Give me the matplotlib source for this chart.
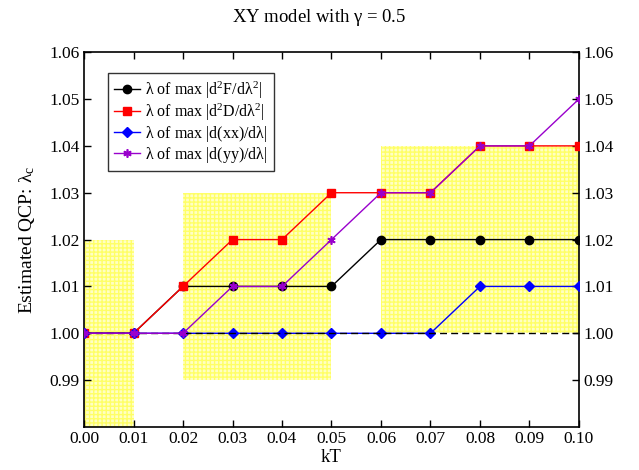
import matplotlib
matplotlib.use("Agg")
import matplotlib.pyplot as plt
from matplotlib.patches import Rectangle

plt.rcParams['font.family'] = ['Liberation Serif', 'DejaVu Serif']
plt.rcParams['mathtext.fontset'] = 'stix'
plt.rcParams['mathtext.default'] = 'regular'
plt.rcParams['hatch.linewidth'] = 1.0

# Temperature grid and estimated critical points
kT = [0.00, 0.01, 0.02, 0.03, 0.04, 0.05, 0.06, 0.07, 0.08, 0.09, 0.10]
lam_F = [1.00, 1.00, 1.01, 1.01, 1.01, 1.01, 1.02, 1.02, 1.02, 1.02, 1.02]
lam_D = [1.00, 1.00, 1.01, 1.02, 1.02, 1.03, 1.03, 1.03, 1.04, 1.04, 1.04]
lam_xx = [1.00, 1.00, 1.00, 1.00, 1.00, 1.00, 1.00, 1.00, 1.01, 1.01, 1.01]
lam_yy = [1.00, 1.00, 1.00, 1.01, 1.01, 1.02, 1.03, 1.03, 1.04, 1.04, 1.05]

# Shaded bands: (kT start, kT end, lambda low, lambda high)
band_x0 = [0.00, 0.02, 0.06]
band_x1 = [0.01, 0.05, 0.10]
band_y0 = [0.98, 0.99, 1.00]
band_y1 = [1.02, 1.03, 1.04]

labels = [r'$\lambda$ of max $|d^{2}F/d\lambda^{2}|$',
          r'$\lambda$ of max $|d^{2}D/d\lambda^{2}|$',
          r'$\lambda$ of max $|d(xx)/d\lambda|$',
          r'$\lambda$ of max $|d(yy)/d\lambda|$']

fig = plt.figure(figsize=(6.39, 4.70), dpi=100)
ax = fig.add_axes([0.1315, 0.0915, 0.7745, 0.7975])

for x0, x1, y0, y1 in zip(band_x0, band_x1, band_y0, band_y1):
    ax.add_patch(Rectangle((x0, y0), x1 - x0, y1 - y0, facecolor='#ffffc4',
                           edgecolor='#ffff66', hatch='++++', linewidth=0,
                           zorder=0))

ax.plot(kT, lam_F, color='black', marker='o', markersize=6, lw=1.0,
        label=labels[0], zorder=3)
ax.plot(kT, lam_D, color='red', marker='s', markersize=6, lw=1.0,
        label=labels[1], zorder=4)
ax.plot(kT, lam_xx, color='blue', marker='D', markersize=5, lw=1.0,
        label=labels[2], zorder=5)
ax.plot([0.0, 0.10], [1.00, 1.00], color='black', ls='--', lw=1.0,
        dashes=(5, 3), zorder=6)
ax.plot(kT, lam_yy, color='#9900cc', marker=(6, 2, 0), markersize=6,
        markeredgewidth=1.2, lw=1.0, label=labels[3], zorder=7)

ax.set_xlim(0.0, 0.10)
ax.set_ylim(0.98, 1.06)
ax.set_xticks(kT)
ax.set_xticklabels([f'{v:.2f}' for v in kT])
yt = [0.99, 1.00, 1.01, 1.02, 1.03, 1.04, 1.05, 1.06]
ax.set_yticks(yt)
ax.set_yticklabels([f'{v:.2f}' for v in yt])
ax.tick_params(direction='in', top=True, right=True, labelright=True,
               labelsize=12.5, length=5, width=1, pad=3)
for s in ax.spines.values():
    s.set_linewidth(1.2)

ax.set_xlabel('kT', fontsize=13.5, labelpad=1)
ax.set_ylabel(r'Estimated QCP: $\lambda_{c}$', fontsize=14, labelpad=9)
fig.suptitle(r'XY model with $\gamma$ = 0.5', fontsize=13.5, y=0.985)

leg = ax.legend(loc='upper left', bbox_to_anchor=(0.048, 0.944),
                borderaxespad=0, fontsize=11.5,
                frameon=True, fancybox=False, edgecolor='black',
                handlelength=1.6, handletextpad=0.3, borderpad=0.4,
                labelspacing=0.05)
leg.get_frame().set_linewidth(1.0)

fig.savefig('out.png', dpi=100)
